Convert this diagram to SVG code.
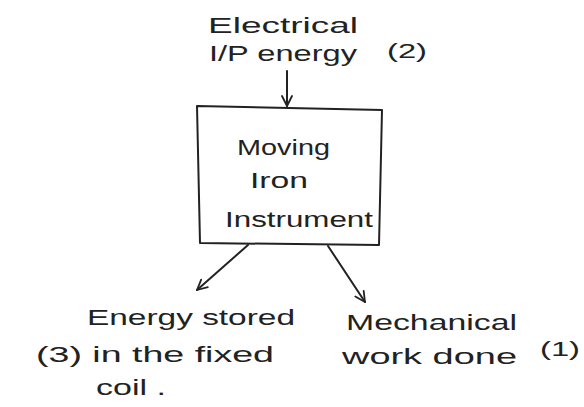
<svg xmlns="http://www.w3.org/2000/svg" width="584" height="407" viewBox="0 0 584 407">
<defs>
<style>
.t{font-family:"Liberation Sans","DejaVu Sans",sans-serif;font-size:22px;fill:#222222}
.s{font-family:"Liberation Sans","DejaVu Sans",sans-serif;font-size:20px;fill:#222222}
.ln{stroke:#222222;stroke-width:2;fill:none;stroke-linecap:round;stroke-linejoin:round}
</style>
<marker id="ah" viewBox="0 0 12 12" refX="11" refY="6" markerWidth="12" markerHeight="12" markerUnits="userSpaceOnUse" orient="auto">
<path d="M1,1 L11,6 L1,11" fill="none" stroke="#222222" stroke-width="1.8" stroke-linecap="round" stroke-linejoin="round"/>
</marker>
</defs>
<rect width="584" height="407" fill="#ffffff"/>
<g id="input">
<text class="t" x="208" y="33" textLength="150" lengthAdjust="spacingAndGlyphs">Electrical</text>
<text class="t" x="209" y="61" textLength="148" lengthAdjust="spacingAndGlyphs">I/P energy</text>
<text class="s" x="387" y="58" textLength="40" lengthAdjust="spacingAndGlyphs">(2)</text>
</g>
<g id="instrument">
<path class="ln" d="M197,106 L382,110 L379,245 L200,243 Z"/>
<text class="t" x="237" y="155" textLength="93" lengthAdjust="spacingAndGlyphs">Moving</text>
<text class="t" x="250" y="188" textLength="58" lengthAdjust="spacingAndGlyphs">Iron</text>
<text class="t" x="225" y="227" textLength="148" lengthAdjust="spacingAndGlyphs">Instrument</text>
</g>
<g id="stored">
<text class="t" x="87" y="325" textLength="208" lengthAdjust="spacingAndGlyphs">Energy stored</text>
<text class="t" x="36" y="362" textLength="238" lengthAdjust="spacingAndGlyphs">(3) in the fixed</text>
<text class="t" x="96" y="395" textLength="70" lengthAdjust="spacingAndGlyphs">coil .</text>
</g>
<g id="mechanical">
<text class="t" x="346" y="330" textLength="171" lengthAdjust="spacingAndGlyphs">Mechanical</text>
<text class="t" x="342" y="364" textLength="175" lengthAdjust="spacingAndGlyphs">work done</text>
<text class="s" x="540" y="356" textLength="40" lengthAdjust="spacingAndGlyphs">(1)</text>
</g>
<g id="connectors">
<line class="ln" x1="287" y1="71" x2="287" y2="106" marker-end="url(#ah)"/>
<line class="ln" x1="248" y1="245" x2="197" y2="290" marker-end="url(#ah)"/>
<line class="ln" x1="328" y1="246" x2="365" y2="302" marker-end="url(#ah)"/>
</g>
</svg>
